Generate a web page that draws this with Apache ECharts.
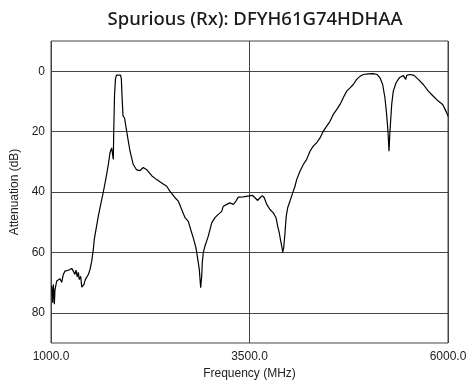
<!DOCTYPE html>
<html>
<head>
<meta charset="utf-8">
<script src="https://cdn.jsdelivr.net/npm/echarts@6/dist/echarts.min.js"></script>
<style>
html,body{margin:0;padding:0;background:#fff;}
#chart{width:473px;height:385px;}
</style>
</head>
<body>
<div id="chart"></div>
<script>
const titleText = 'Spurious (Rx): DFYH61G74HDHAA';
const xName = 'Frequency (MHz)';
const yName = 'Attenuation (dB)';
const xTicks = [1000, 3500, 6000];
const yTicks = [0, 20, 40, 60, 80];

const freqMHz = [
  1009,1021,1029,1038,1042,1050,1059,1072,1092,1113,1135,1155,1176,1198,1218,1239,1261,1281,1302,1315,
  1331,1344,1356,1374,1387,1399,1416,1432,1450,1470,1491,1513,1533,1545,1567,1596,1626,1659,1693,1722,
  1743,1764,1777,1785,1790,1800,1812,1825,1848,1876,1886,1894,1907,1926,1953,1995,2036,2079,2121,2162,
  2205,2268,2331,2394,2457,2499,2562,2603,2646,2688,2729,2759,2792,2826,2855,2868,2885,2898,2905,2918,
  2939,2981,3024,3065,3107,3150,3170,3213,3254,3296,3330,3359,3422,3494,3535,3569,3603,3632,3661,3686,
  3717,3758,3800,3834,3855,3875,3893,3906,3918,3931,3947,3963,3981,4010,4044,4073,4094,4136,4178,4220,
  4262,4303,4346,4388,4429,4472,4514,4555,4598,4640,4681,4724,4766,4807,4850,4892,4933,4996,5059,5109,
  5143,5177,5206,5227,5244,5257,5269,5291,5311,5345,5386,5437,5458,5467,5480,5521,5572,5626,5689,5752,
  5815,5878,5933,5984,6000
];
const attenuationDb = [
  71.1,76.7,70.6,74.0,77.2,72.5,71.2,69.5,70.0,68.7,69.9,67.3,66.2,66.2,65.9,65.7,65.3,66.2,67.3,65.9,
  68.1,66.6,69.0,67.9,71.5,72.1,70.6,69.0,69.0,67.3,65.7,62.9,59.0,55.7,52.4,48.0,44.1,40.0,35.3,30.9,
  27.0,25.4,24.8,29.2,20.0,8.0,2.5,1.3,1.1,1.3,2.5,8.0,14.8,15.5,19.9,26.5,30.9,32.7,32.9,31.9,
  32.6,34.6,35.9,37.0,38.1,39.8,41.9,43.0,45.8,48.5,49.7,52.4,55.2,58.5,63.4,65.7,71.7,67.9,63.4,60.1,
  57.9,54.6,50.2,48.5,47.4,46.4,44.7,44.1,43.6,44.1,43.0,41.7,41.6,41.3,41.1,41.9,42.8,41.9,41.2,41.9,
  44.1,45.8,46.9,48.5,51.3,53.5,56.3,57.9,59.9,58.5,53.5,48.0,45.2,43.0,40.3,38.1,35.9,33.1,30.9,29.2,
  26.5,24.8,23.7,22.1,19.9,18.2,16.6,14.3,12.7,11.0,8.8,6.6,5.5,4.4,2.7,1.7,1.1,0.9,0.8,1.1,
  2.2,4.4,8.8,14.3,19.9,26.5,19.9,11.0,6.6,3.9,2.2,1.4,1.7,2.7,1.4,1.1,1.4,2.7,4.4,6.6,
  8.3,9.9,11.0,13.8,14.9
];

const seriesData = freqMHz.map((f, i) => [f, attenuationDb[i]]);
const gridColor = '#444';
const labelFont = '"Liberation Sans", Arial, sans-serif';

const chart = echarts.init(document.getElementById('chart'), null, {renderer: 'canvas'});
chart.setOption({
  animation: false,
  backgroundColor: '#fff',
  title: {
    text: titleText,
    left: 250, top: 5, textAlign: 'center',
    textStyle: {fontFamily: '"Noto Sans", sans-serif', fontSize: 18.5, fontWeight: 500, color: '#1a1a1a'}
  },
  grid: {left: 51, right: 25, top: 41, bottom: 42, show: true, borderColor: gridColor, borderWidth: 1, backgroundColor: '#fff'},
  xAxis: {
    type: 'value', min: xTicks[0], max: xTicks[xTicks.length - 1], interval: xTicks[1] - xTicks[0],
    name: xName, nameLocation: 'middle', nameGap: 12,
    nameTextStyle: {fontFamily: labelFont, fontSize: 12, color: '#222'},
    axisLine: {show: false}, axisTick: {show: false},
    axisLabel: {fontFamily: labelFont, fontSize: 12, color: '#222', margin: 8, formatter: v => v.toFixed(1)},
    splitLine: {show: true, lineStyle: {color: gridColor, width: 1}}
  },
  yAxis: {
    type: 'value', inverse: true, min: -10, max: 90, interval: 10,
    name: yName, nameLocation: 'middle', nameGap: 19,
    nameTextStyle: {fontFamily: labelFont, fontSize: 12, color: '#222'},
    axisLine: {show: false}, axisTick: {show: false},
    axisLabel: {fontFamily: labelFont, fontSize: 12, color: '#222', margin: 6,
      formatter: v => yTicks.indexOf(v) >= 0 ? String(v) : ''},
    splitLine: {show: true, lineStyle: {color: ['rgba(0,0,0,0)', gridColor], width: 1}}
  },
  series: [{
    type: 'line', data: seriesData, showSymbol: false, symbol: 'none',
    lineStyle: {color: '#000', width: 1.2}, silent: true
  }]
});
</script>
</body>
</html>
